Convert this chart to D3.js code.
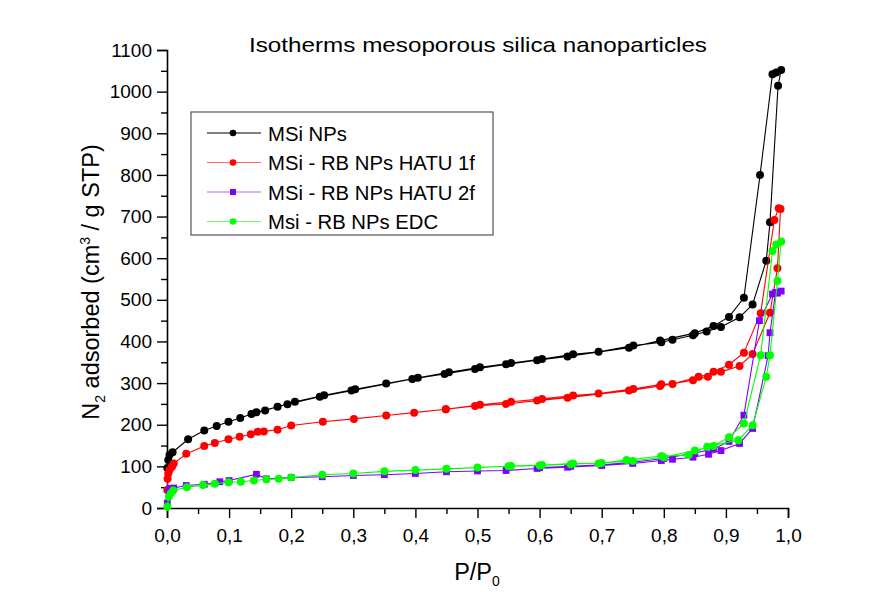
<!DOCTYPE html>
<html>
<head>
<meta charset="utf-8">
<script src="https://cdn.jsdelivr.net/npm/d3@7"></script>
<style>
  html, body { margin: 0; padding: 0; background: #fff; }
  svg { display: block; }
  text { font-family: "Liberation Sans", Arial, sans-serif; fill: #000; }
</style>
</head>
<body>
<svg id="chart" width="896" height="608"></svg>
<script>
// N2 isotherms: relative pressure P/P0 and adsorbed volume (cm3/g STP),
// each loop listed as adsorption branch followed by desorption branch.
const msiP = [0.0005, 0.002, 0.004, 0.009, 0.034, 0.060, 0.080, 0.099, 0.118, 0.136, 0.158, 0.178, 0.206, 0.253, 0.303, 0.353, 0.404, 0.454, 0.504, 0.554, 0.604, 0.654, 0.695, 0.751, 0.796, 0.814, 0.847, 0.869, 0.892, 0.922, 0.943, 0.965, 0.971, 0.984, 0.989,
              0.981, 0.975, 0.955, 0.929, 0.905, 0.880, 0.850, 0.794, 0.744, 0.645, 0.596, 0.546, 0.496, 0.447, 0.395, 0.297, 0.246, 0.194, 0.144];
const msiV = [96, 115, 127, 134, 165, 186, 197, 207, 216, 226, 234, 243, 255, 271, 285, 299, 313, 326, 338, 348, 358, 369, 375, 390, 398, 404, 415, 424, 435, 458, 489, 594, 686, 1014, 1052,
              1046, 1042, 800, 505, 459, 437, 420, 402, 385, 364, 355, 345, 334, 322, 310, 282, 267, 249, 230];

const hatu1P = [0.0005, 0.001, 0.002, 0.004, 0.008, 0.011, 0.031, 0.060, 0.077, 0.099, 0.117, 0.135, 0.146, 0.156, 0.178, 0.200, 0.251, 0.301, 0.353, 0.398, 0.449, 0.504, 0.554, 0.604, 0.654, 0.695, 0.751, 0.796, 0.814, 0.856, 0.892, 0.922, 0.943, 0.971, 0.983, 0.988,
                0.985, 0.978, 0.956, 0.929, 0.905, 0.880, 0.871, 0.847, 0.794, 0.744, 0.645, 0.596, 0.546, 0.496, 0.449];
const hatu1V = [43, 70, 83, 91, 99, 107, 130, 149, 156, 165, 171, 177, 183, 184, 188, 198, 207, 214, 222, 229, 237, 248, 255, 262, 270, 275, 286, 297, 298, 315, 327, 341, 370, 469, 576, 718,
                720, 692, 468, 373, 344, 327, 315, 307, 293, 282, 265, 258, 250, 245, 237];

const hatu2P = [0.0005, 0.003, 0.005, 0.011, 0.031, 0.060, 0.085, 0.100, 0.144, 0.160, 0.200, 0.250, 0.300, 0.350, 0.400, 0.450, 0.500, 0.546, 0.596, 0.645, 0.700, 0.750, 0.796, 0.814, 0.847, 0.872, 0.892, 0.922, 0.943, 0.968, 0.971, 0.980, 0.989,
                0.983, 0.975, 0.954, 0.929, 0.905, 0.880, 0.850, 0.800, 0.750, 0.700, 0.650, 0.600];
const hatu2V = [12, 43, 47, 48, 54, 57, 63, 66, 81, 70, 73, 75, 78, 80, 83, 87, 89, 90, 95, 98, 102, 107, 114, 117, 122, 129, 138, 155, 191, 366, 421, 518, 521,
                516, 514, 450, 223, 160, 142, 132, 119, 110, 104, 100, 97];

const edcP = [0.0005, 0.003, 0.006, 0.010, 0.032, 0.058, 0.077, 0.099, 0.119, 0.140, 0.160, 0.180, 0.200, 0.250, 0.300, 0.350, 0.400, 0.450, 0.500, 0.554, 0.604, 0.654, 0.695, 0.740, 0.796, 0.840, 0.870, 0.920, 0.943, 0.965, 0.971, 0.983, 0.989,
              0.981, 0.975, 0.956, 0.929, 0.905, 0.880, 0.850, 0.800, 0.750, 0.700, 0.650, 0.600, 0.550];
const edcV = [3, 27, 35, 42, 50, 55, 58, 62, 63, 66, 69, 70, 73, 80, 83, 88, 91, 94, 97, 101, 103, 107, 107, 115, 125, 127, 147, 163, 199, 315, 367, 545, 640,
              633, 617, 367, 203, 170, 149, 138, 122, 113, 108, 105, 102, 100];

const seriesNames = ["MSi NPs", "MSi - RB NPs HATU 1f", "MSi - RB NPs HATU 2f", "Msi - RB NPs EDC"];
const seriesColors = ["#000000", "#ff0000", "#7f00ff", "#00ff00"];
const seriesShapes = ["circle", "circle", "square", "circle"];

const xTicks = [0, 0.1, 0.2, 0.3, 0.4, 0.5, 0.6, 0.7, 0.8, 0.9, 1.0];
const yTicks = [0, 100, 200, 300, 400, 500, 600, 700, 800, 900, 1000, 1100];

const series = [
  { p: msiP, v: msiV },
  { p: hatu1P, v: hatu1V },
  { p: hatu2P, v: hatu2V },
  { p: edcP, v: edcV }
].map((s, i) => ({
  name: seriesNames[i], color: seriesColors[i], shape: seriesShapes[i],
  pts: s.p.map((p, j) => ({ p, v: s.v[j] }))
}));

const svg = d3.select("#chart");
const x = d3.scaleLinear().domain([0, 1]).range([167, 788]);
const y = d3.scaleLinear().domain([0, 1100]).range([508, 50]);

// axes (left and bottom only), ticks pointing outward
const fmtX = d => d3.format(".1f")(d).replace(".", ",");
const xAxis = svg.append("g").attr("transform", "translate(0,508)")
  .call(d3.axisBottom(x).tickValues(xTicks).tickFormat(fmtX).tickSize(10).tickPadding(11));
const xMinor = svg.append("g").attr("transform", "translate(0,508)")
  .call(d3.axisBottom(x).tickValues(d3.range(0.05, 1, 0.1)).tickFormat("").tickSize(6));
const yAxis = svg.append("g").attr("transform", "translate(167,0)")
  .call(d3.axisLeft(y).tickValues(yTicks).tickFormat(d3.format("d")).tickSize(10).tickPadding(5));
const yMinor = svg.append("g").attr("transform", "translate(167,0)")
  .call(d3.axisLeft(y).tickValues(d3.range(50, 1100, 100)).tickFormat("").tickSize(6));

[xAxis, xMinor, yAxis, yMinor].forEach(g => {
  g.select(".domain").attr("stroke", "#000").attr("stroke-width", 1.6);
  g.selectAll(".tick line").attr("stroke", "#000").attr("stroke-width", 1.4);
  g.selectAll(".tick text").attr("font-size", 19).attr("font-family", "Liberation Sans, Arial, sans-serif");
});
xMinor.select(".domain").remove();
yMinor.select(".domain").remove();

// title and axis labels
svg.append("text").attr("x", 478).attr("y", 52).attr("text-anchor", "middle")
  .attr("font-size", 21).attr("textLength", 458).attr("lengthAdjust", "spacingAndGlyphs")
  .text("Isotherms mesoporous silica nanoparticles");

const xl = svg.append("text").attr("x", 477).attr("y", 580).attr("text-anchor", "middle").attr("font-size", 23.5);
xl.append("tspan").text("P/P");
xl.append("tspan").attr("font-size", 14).attr("dy", 6).text("0");

const yl = svg.append("text").attr("transform", "translate(99,282) rotate(-90)")
  .attr("text-anchor", "middle").attr("font-size", 23.5);
yl.append("tspan").text("N");
yl.append("tspan").attr("font-size", 14).attr("dy", 6).text("2");
yl.append("tspan").attr("dy", -6).text(" adsorbed (cm");
yl.append("tspan").attr("font-size", 14).attr("dy", -9).text("3");
yl.append("tspan").attr("dy", 9).text(" / g STP)");

// isotherm lines and markers
const line = d3.line().x(d => x(d.p)).y(d => y(d.v));
function drawMarker(g, shape, color, cx, cy) {
  if (shape === "square") {
    g.append("rect").attr("x", cx - 3.4).attr("y", cy - 3.4).attr("width", 6.8).attr("height", 6.8).attr("fill", color);
  } else {
    g.append("circle").attr("cx", cx).attr("cy", cy).attr("r", 4).attr("fill", color);
  }
}

series.forEach(s => {
  const g = svg.append("g");
  g.append("path").datum(s.pts).attr("d", line)
    .attr("fill", "none").attr("stroke", s.color).attr("stroke-width", 1.1);
  s.pts.forEach(d => drawMarker(g, s.shape, s.color, x(d.p), y(d.v)));
});

// legend
const leg = svg.append("g");
leg.append("rect").attr("x", 191).attr("y", 112).attr("width", 302).attr("height", 123)
  .attr("fill", "#fff").attr("stroke", "#555").attr("stroke-width", 1.2);
series.forEach((s, i) => {
  const ly = 133 + i * 29.5;
  leg.append("line").attr("x1", 207).attr("x2", 261).attr("y1", ly).attr("y2", ly)
    .attr("stroke", s.color).attr("stroke-width", 1.1).attr("stroke-opacity", i === 0 ? 1 : 0.6);
  if (s.shape === "square") {
    leg.append("rect").attr("x", 230).attr("y", ly - 3).attr("width", 6).attr("height", 6).attr("fill", s.color);
  } else {
    leg.append("circle").attr("cx", 233).attr("cy", ly).attr("r", 3.3).attr("fill", s.color);
  }
  leg.append("text").attr("x", 268).attr("y", ly + 7.5).attr("font-size", 20.3).text(s.name);
});
</script>
</body>
</html>
